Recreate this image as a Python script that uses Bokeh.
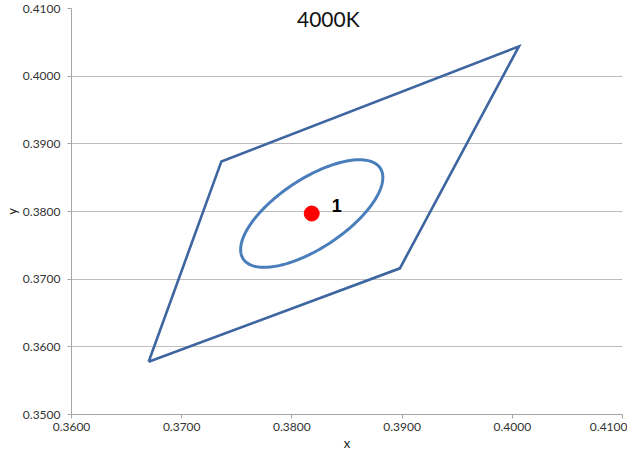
import numpy as np
from bokeh.plotting import figure
from bokeh.models import Range1d, FixedTicker, NumeralTickFormatter, Label
from bokeh.embed import file_html
from bokeh.resources import INLINE

# ---- data ----
title_text = "4000K"
x_ticks = [0.36, 0.37, 0.38, 0.39, 0.40, 0.41]
y_ticks = [0.35, 0.36, 0.37, 0.38, 0.39, 0.40, 0.41]

quad_x = [0.3670, 0.3736, 0.4006, 0.3898, 0.3670]
quad_y = [0.3578, 0.3874, 0.4044, 0.3716, 0.3578]

center_x = [0.3818]
center_y = [0.3797]
center_label = "1"

ellipse_a = 0.0094      # semi-major axis
ellipse_b = 0.00405     # semi-minor axis
ellipse_theta_deg = 53.7

# ellipse outline from its parameters
t = np.linspace(0, 2 * np.pi, 241)
th = np.deg2rad(ellipse_theta_deg)
ell_x = center_x[0] + ellipse_a * np.cos(t) * np.cos(th) - ellipse_b * np.sin(t) * np.sin(th)
ell_y = center_y[0] + ellipse_a * np.cos(t) * np.sin(th) + ellipse_b * np.sin(t) * np.cos(th)

FONT = "Lato"
GRID = "#bdbdbd"
AXIS = "#a6a6a6"

p = figure(width=627, height=454, output_backend="svg", toolbar_location=None,
           x_range=Range1d(0.36, 0.41), y_range=Range1d(0.35, 0.41),
           min_border_left=71, min_border_right=5, min_border_top=8, min_border_bottom=40)
p.outline_line_color = None
p.background_fill_color = "white"
p.border_fill_color = "white"

p.xgrid.grid_line_color = None
p.ygrid.grid_line_color = GRID
p.ygrid.grid_line_width = 1

for ax in (p.xaxis[0], p.yaxis[0]):
    ax.axis_line_color = AXIS
    ax.major_tick_line_color = AXIS
    ax.minor_tick_line_color = None
    ax.major_tick_out = 4
    ax.major_tick_in = 0
    ax.major_label_text_font = FONT
    ax.major_label_text_font_size = "12px"
    ax.major_label_text_color = "#333333"
    ax.axis_label_text_font = FONT
    ax.axis_label_text_font_size = "13px"
    ax.axis_label_text_font_style = "normal"
    ax.axis_label_text_color = "#222222"
    ax.formatter = NumeralTickFormatter(format="0.0000")

p.xaxis.ticker = FixedTicker(ticks=x_ticks)
p.yaxis.ticker = FixedTicker(ticks=y_ticks)
p.ygrid.ticker = FixedTicker(ticks=y_ticks)
p.xaxis.axis_label = "x"
p.yaxis.axis_label = "y"
p.xaxis.major_label_standoff = 4
p.xaxis.axis_label_standoff = 1
p.yaxis.major_label_standoff = 7
p.yaxis.axis_label_standoff = 0

# quadrangle
p.line(quad_x, quad_y, line_color="#3d65a0", line_width=2.6, line_join="miter")
# ellipse
p.line(ell_x, ell_y, line_color="#4a7ebb", line_width=3)
# center point
p.scatter(center_x, center_y, size=15, fill_color="#ff0000", line_color="#ff0000")

p.add_layout(Label(x=center_x[0], y=center_y[0], text=center_label, x_offset=20, y_offset=8,
                   text_baseline="middle", text_align="left",
                   text_font="Liberation Sans", text_font_size="18px",
                   text_font_style="bold", text_color="black"))

p.add_layout(Label(x=0.3833, y=0.4085, text=title_text, text_align="center",
                   text_baseline="middle", text_font=FONT, text_font_size="21px",
                   text_color="#111111"))

open("out.html", "w").write(file_html(p, INLINE))
